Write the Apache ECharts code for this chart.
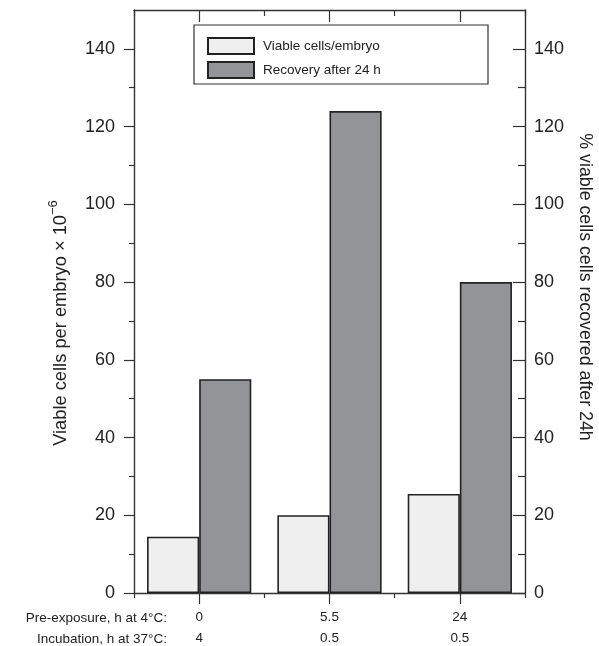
<!DOCTYPE html>
<html><head><meta charset="utf-8">
<script src="https://cdn.jsdelivr.net/npm/echarts@6/dist/echarts.min.js"></script>
<style>html,body{margin:0;padding:0;background:#fff}#c{width:599px;height:646px}</style>
</head><body><div id="c"></div>
<script>
const preExposure = ['0', '5.5', '24'];
const incubation = ['4', '0.5', '0.5'];
const viableCells = [14.5, 20, 25.5];
const recoveryPct = [55, 124, 80];
const majorTicks = [0, 20, 40, 60, 80, 100, 120, 140];
const minorTicks = [10, 30, 50, 70, 90, 110, 130];
const seriesNames = ['Viable cells/embryo', 'Recovery after 24 h'];
const rowTitles = ['Pre-exposure, h at 4°C:', 'Incubation, h at 37°C:'];
const yTitleLeft = 'Viable cells per embryo × 10';
const yTitleLeftSup = '−6';
const yTitleRight = '% viable cells cells recovered after 24h';

const categories = preExposure.map((p, i) => p + '\n' + incubation[i]);
const FONT = 'Liberation Sans, Arial, Helvetica, sans-serif';
const INK = '#222';
const AX = '#333';

function yAx(pos, ticks, len, inside, labels) {
  return {
    type: 'value', position: pos, min: 0, max: 150,
    axisLine: { show: labels, lineStyle: { color: AX, width: 1.4 } },
    axisTick: { show: true, inside: inside, length: len, customValues: ticks, lineStyle: { color: AX, width: 1.2 } },
    axisLabel: { show: labels, customValues: ticks, fontSize: 18, color: INK, fontFamily: FONT, margin: pos === 'left' ? 19 : 9 },
    splitLine: { show: false }
  };
}
function xAx(pos, center, len, inside, labels, line) {
  return {
    type: 'category', position: pos, data: categories,
    boundaryGap: true,
    axisLine: { show: line, onZero: false, lineStyle: { color: AX, width: 1.4 } },
    axisTick: { show: true, alignWithLabel: center, inside: inside, length: len, lineStyle: { color: AX, width: 1.2 } },
    axisLabel: { show: labels, fontSize: 13.5, lineHeight: 21, color: INK, fontFamily: FONT, margin: 14 },
    splitLine: { show: false }
  };
}

const chart = echarts.init(document.getElementById('c'), null, { renderer: 'canvas' });
chart.setOption({
  animation: false,
  backgroundColor: '#fff',
  textStyle: { fontFamily: FONT },
  grid: { left: 134, right: 74, top: 10, bottom: 53, containLabel: false, outerBoundsMode: 'none' },
  xAxis: [
    xAx('bottom', true, 11, false, true, true),
    xAx('bottom', false, 5, false, false, false),
    xAx('top', true, 12, true, false, true),
    xAx('top', false, 6, true, false, false)
  ],
  yAxis: [
    yAx('left', majorTicks, 10, false, true),
    yAx('left', minorTicks, 5, false, false),
    yAx('right', majorTicks, 12, true, true),
    yAx('right', minorTicks, 7, true, false)
  ],
  legend: {
    data: seriesNames, orient: 'vertical', left: 207, top: 37, padding: 0,
    itemWidth: 46, itemHeight: 16, itemGap: 6, icon: 'rect',
    textStyle: { fontSize: 13.5, color: INK, fontFamily: FONT, padding: [0, 0, 0, 4] }
  },
  series: [
    {
      type: 'bar', name: seriesNames[0], data: viableCells, xAxisIndex: 0, yAxisIndex: 0,
      barWidth: '40%', barGap: '0%',
      itemStyle: { color: '#efefef', borderColor: INK, borderWidth: 1.6 }
    },
    {
      type: 'bar', name: seriesNames[1], data: recoveryPct, xAxisIndex: 0, yAxisIndex: 2,
      barWidth: '40%', barGap: '0%',
      itemStyle: { color: '#939497', borderColor: INK, borderWidth: 1.6 }
    }
  ],
  graphic: [
    { type: 'rect', shape: { x: 194, y: 25, width: 294, height: 59 }, style: { fill: 'none', stroke: AX, lineWidth: 1.2 }, z: 10 },
    { type: 'text', x: 167, y: 618, style: { text: rowTitles[0], align: 'right', verticalAlign: 'middle', fontSize: 13.5, fill: INK, fontFamily: FONT } },
    { type: 'text', x: 167, y: 639, style: { text: rowTitles[1], align: 'right', verticalAlign: 'middle', fontSize: 13.5, fill: INK, fontFamily: FONT } },
    {
      type: 'text', x: 61, y: 323, rotation: Math.PI / 2,
      style: {
        text: '{m|' + yTitleLeft + '}{s|' + yTitleLeftSup + '}', align: 'center', verticalAlign: 'middle',
        fill: INK, fontFamily: FONT,
        rich: {
          m: { fontSize: 18.3, lineHeight: 28, fill: INK, fontFamily: FONT },
          s: { fontSize: 13, lineHeight: 12, verticalAlign: 'top', fill: INK, fontFamily: FONT }
        }
      }
    },
    {
      type: 'text', x: 585, y: 287, rotation: -Math.PI / 2,
      style: { text: yTitleRight, align: 'center', verticalAlign: 'middle', fontSize: 17.8, fill: INK, fontFamily: FONT }
    }
  ]
});
</script></body></html>
